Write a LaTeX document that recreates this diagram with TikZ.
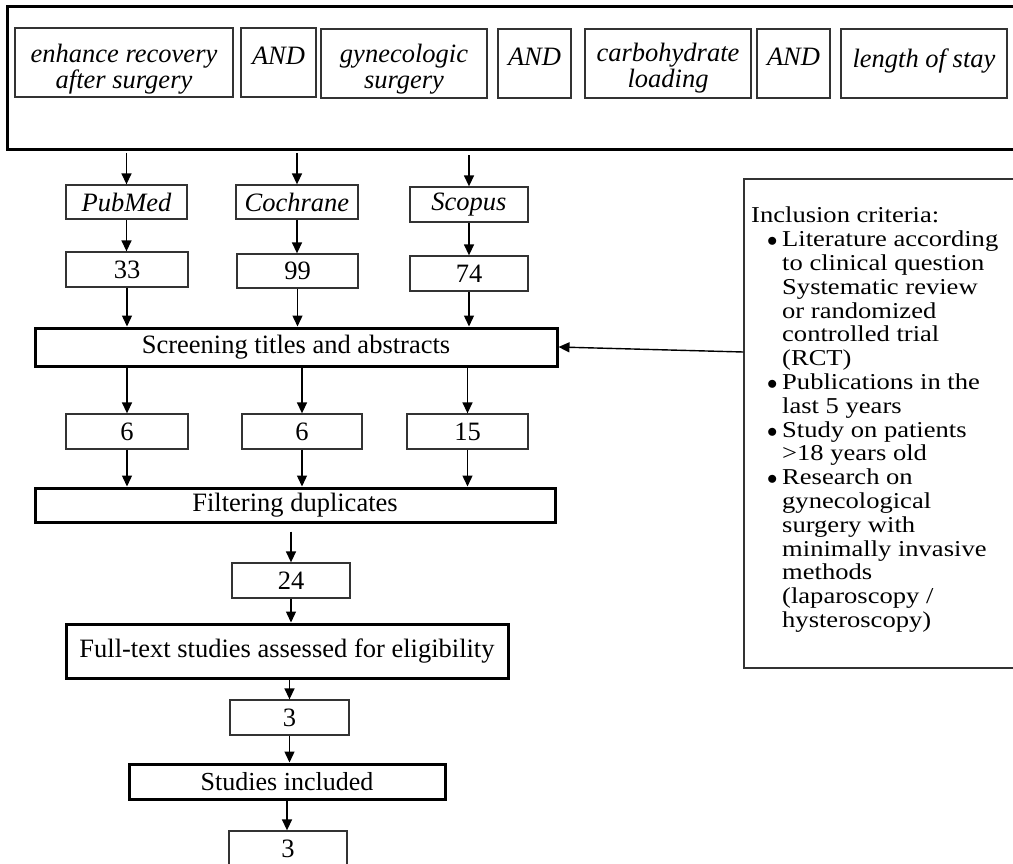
\documentclass[tikz,border=0pt]{standalone}
\usepackage{fontspec}
\setmainfont{Liberation Serif}
\newfontfamily\critfont[FakeStretch=1.17]{Liberation Serif}
\usetikzlibrary{arrows.meta}
\newcommand\mainfs{\fontsize{26.5}{25.5}\selectfont}
\newcommand\critbul{\hspace*{16pt}\makebox[15pt][l]{$\bullet$}}
\begin{document}
\begin{tikzpicture}[x=1pt,y=-1pt,
  thinbox/.style={draw=black!80, line width=1.3pt, inner sep=0pt, align=center, font=\mainfs},
  itbox/.style={thinbox, font=\mainfs\itshape},
  ittext/.style={inner sep=0pt, align=center, font=\mainfs\itshape},
  thickbox/.style={draw=black, line width=3pt, inner sep=0pt, align=center, font=\mainfs},
  arr/.style={-{Triangle[length=11pt,width=10pt]}, line width=1.4pt, draw=black}]
\useasboundingbox (0,0) rectangle (1013,864);

% query box
\node[thickbox, minimum width=1013pt, minimum height=143pt] (query) at (513.5,78.5) {};
\node[itbox, minimum width=218pt, minimum height=69pt] (k1) at (124,62.5) {};
\node[itbox, minimum width=75pt, minimum height=69pt] (a1) at (278.5,62.5) {};
\node[itbox, minimum width=166pt, minimum height=69pt] (k2) at (404,63.5) {};
\node[itbox, minimum width=73pt, minimum height=69pt] (a2) at (534.5,63.5) {};
\node[itbox, minimum width=166pt, minimum height=69pt] (k3) at (668,63.5) {};
\node[itbox, minimum width=73pt, minimum height=69pt] (a3) at (793.5,63.5) {};
\node[itbox, minimum width=166pt, minimum height=69pt] (k4) at (924,63.5) {};
\node[ittext] (k1t) at ([yshift=-6.5pt]k1.center) {enhance recovery\\after surgery};
\node[ittext] (a1t) at ([yshift=6.5pt]a1.center) {AND};
\node[ittext] (k2t) at ([yshift=-5.5pt]k2.center) {gynecologic\\surgery};
\node[ittext] (a2t) at ([yshift=6.5pt]a2.center) {AND};
\node[ittext] (k3t) at ([yshift=-4.5pt]k3.center) {carbohydrate\\loading};
\node[ittext] (a3t) at ([yshift=6.5pt]a3.center) {AND};
\node[ittext] (k4t) at ([yshift=2pt]k4.center) {length of stay};

% databases
\node[itbox, minimum width=121pt, minimum height=34pt] (pub) at (126.5,202) {PubMed};
\node[itbox, minimum width=122pt, minimum height=34pt] (coc) at (297,202) {Cochrane};
\node[itbox, minimum width=118pt, minimum height=35pt] (sco) at (469,204.5) {Scopus};

\node[thinbox, minimum width=122pt, minimum height=35pt] (n33) at (127,269.5) {33};
\node[thinbox, minimum width=121pt, minimum height=34pt] (n99) at (297.5,271) {99};
\node[thinbox, minimum width=118pt, minimum height=35pt] (n74) at (469,273.5) {74};

\node[thickbox, minimum width=522pt, minimum height=38pt] (scr) at (296,347) {Screening titles and abstracts};

\node[thinbox, minimum width=122pt, minimum height=35pt] (s6a) at (127,431.5) {6};
\node[thinbox, minimum width=120pt, minimum height=35pt] (s6b) at (302,431.5) {6};
\node[thinbox, minimum width=121pt, minimum height=35pt] (s15) at (467.5,431.5) {15};

\node[thickbox, minimum width=520pt, minimum height=34pt] (fil) at (295,505) {Filtering duplicates};
\node[thinbox, minimum width=118pt, minimum height=35pt] (n24) at (291,580.5) {24};
\node[thickbox, minimum width=442pt, minimum height=54pt] (full) at (287,651) {Full-text studies assessed for eligibility};
\node[thinbox, minimum width=119pt, minimum height=35pt] (n3a) at (289.5,717.5) {3};
\node[thickbox, minimum width=316pt, minimum height=35pt, font=\fontsize{26}{25}\selectfont] (inc) at (287,781.5) {Studies included};
\node[thinbox, minimum width=118pt, minimum height=35pt] (n3b) at (288,848.5) {3};

% criteria
\node[draw=black!80, line width=1.3pt, minimum width=276pt, minimum height=489pt, inner sep=0pt] (crit) at (882,423.5) {};
\node[anchor=north west, inner sep=0pt, align=left, font=\critfont\fontsize{22.7}{23.8}\selectfont] (crittext) at (751,207) {Inclusion criteria:\\
\critbul Literature according\\
\hspace*{31pt}to clinical question\\
\hspace*{31pt}Systematic review\\
\hspace*{31pt}or randomized\\
\hspace*{31pt}controlled trial\\
\hspace*{31pt}(RCT)\\
\critbul Publications in the\\
\hspace*{31pt}last 5 years\\
\critbul Study on patients\\
\hspace*{31pt}>18 years old\\
\critbul Research on\\
\hspace*{31pt}gynecological\\
\hspace*{31pt}surgery with\\
\hspace*{31pt}minimally invasive\\
\hspace*{31pt}methods\\
\hspace*{31pt}(laparoscopy /\\
\hspace*{31pt}hysteroscopy)};

% arrows
\draw[arr] ([yshift=-1.5pt]query.south -| pub.north) -- (pub.north);
\draw[arr] ([yshift=-1.5pt]query.south -| coc.north) -- (coc.north);
\draw[arr] ([yshift=-4pt]query.south -| sco.north) -- (sco.north);
\draw[arr] (pub.south) -- (pub.south |- n33.north);
\draw[arr] (coc.south) -- (coc.south |- n99.north);
\draw[arr] (sco.south) -- (sco.south |- n74.north);
\draw[arr] (n33.south) -- (n33.south |- scr.north);
\draw[arr] (n99.south) -- (n99.south |- scr.north);
\draw[arr] (n74.south) -- (n74.south |- scr.north);
\draw[arr] (scr.south -| s6a.north) -- (s6a.north);
\draw[arr] (scr.south -| s6b.north) -- (s6b.north);
\draw[arr] (scr.south -| s15.north) -- (s15.north);
\draw[arr] (s6a.south) -- (s6a.south |- fil.north);
\draw[arr] (s6b.south) -- (s6b.south |- fil.north);
\draw[arr] (s15.south) -- (s15.south |- fil.north);
\draw[arr] ([yshift=-8pt]fil.south -| n24.north) -- (n24.north);
\draw[arr] (n24.south) -- (n24.south |- full.north);
\draw[arr] (full.south -| n3a.north) -- (n3a.north);
\draw[arr] (n3a.south) -- (n3a.south |- inc.north);
\draw[arr] (inc.south) -- (inc.south |- n3b.north);
\draw[arr] ([yshift=71.5pt]crit.west) -- (scr.east);
\end{tikzpicture}
\end{document}
